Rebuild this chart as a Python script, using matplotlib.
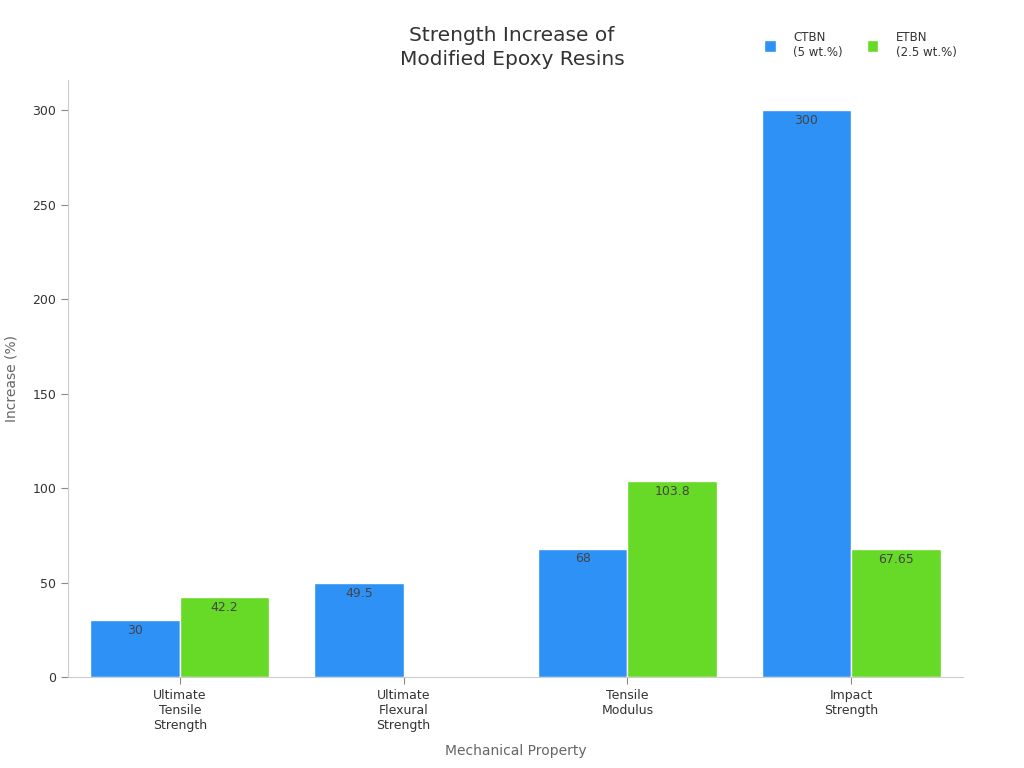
import numpy as np
import matplotlib
matplotlib.use("Agg")
import matplotlib.pyplot as plt

# data
categories = ["Ultimate\nTensile\nStrength", "Ultimate\nFlexural\nStrength",
              "Tensile\nModulus", "Impact\nStrength"]
ctbn = [30, 49.5, 68, 300]
etbn = [42.2, np.nan, 103.8, 67.65]
ctbn_labels = ["30", "49.5", "68", "300"]
etbn_labels = ["42.2", "", "103.8", "67.65"]
series_names = ["CTBN\n(5 wt.%)", "ETBN\n(2.5 wt.%)"]

blue = "#2E91F6"
green = "#66DA26"

fig = plt.figure(figsize=(10.24, 7.68), dpi=100)
ax = fig.add_axes([0.0664, 0.1185, 0.874, 0.7773])

x = np.arange(len(categories))
w = 0.4
b1 = ax.bar(x - w/2, ctbn, w, color=blue, edgecolor="white", linewidth=1, label=series_names[0])
b2 = ax.bar(x + w/2, etbn, w, color=green, edgecolor="white", linewidth=1, label=series_names[1])

for bars, labs in ((b1, ctbn_labels), (b2, etbn_labels)):
    for rect, lab in zip(bars, labs):
        if not lab:
            continue
        ax.annotate(lab, (rect.get_x() + rect.get_width()/2, rect.get_height()),
                    xytext=(0, -7.5), textcoords="offset points",
                    ha="center", va="center", fontsize=9, color="#444444")

ax.set_xlim(-0.5, 3.5)
ax.set_ylim(0, 316)
ax.set_xticks(x)
ax.set_xticklabels(categories, fontsize=9, color="#333333")
ax.set_yticks([0, 50, 100, 150, 200, 250, 300])
ax.tick_params(axis="y", labelsize=9, labelcolor="#333333", color="#888888", length=5)
ax.tick_params(axis="x", color="#888888", length=5)

for s in ("top", "right"):
    ax.spines[s].set_visible(False)
for s in ("left", "bottom"):
    ax.spines[s].set_color("#cccccc")

ax.set_xlabel("Mechanical Property", fontsize=10, color="#666666", labelpad=9)
ax.set_ylabel("Increase (%)", fontsize=10, color="#666666", labelpad=10)

fig.text(0.5, 0.938, "Strength Increase of\nModified Epoxy Resins", ha="center", va="center",
         fontsize=14.5, color="#333333", linespacing=1.35)

leg = ax.legend(loc="upper right", bbox_to_anchor=(0.945, 0.974), bbox_transform=fig.transFigure,
                ncol=2, frameon=False, fontsize=8.5, handlelength=1.0, handleheight=1.2,
                columnspacing=2.0, handletextpad=1.5)
for t in leg.get_texts():
    t.set_color("#333333")

fig.savefig("out.png", dpi=100)
